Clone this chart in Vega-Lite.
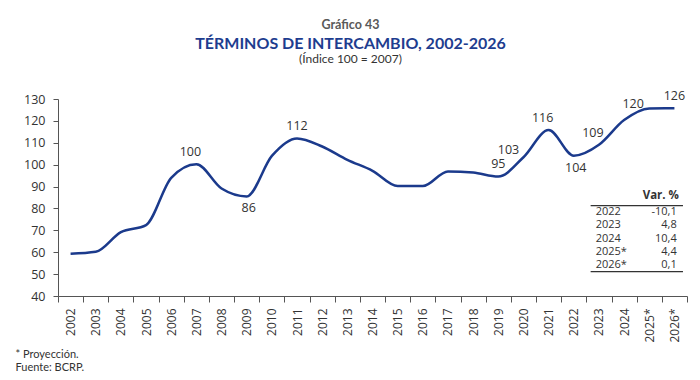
{
  "$schema": "https://vega.github.io/schema/vega-lite/v6.json",
  "autosize": "none",
  "width": 629,
  "height": 197,
  "padding": {"left": 58, "top": 99, "right": 13, "bottom": 84},
  "background": "white",
  "config": {"view": {"stroke": null}, "font": "Open Sans"},
  "title": {
    "text": "TÉRMINOS DE INTERCAMBIO, 2002-2026",
    "subtitle": "(Índice 100 = 2007)",
    "anchor": "middle",
    "frame": "group",
    "dx": -22,
    "offset": -47,
    "font": "Lato",
    "fontSize": 16,
    "fontWeight": "bold",
    "color": "#1e3d8f",
    "subtitleFont": "Lato",
    "subtitleFontSize": 12,
    "subtitleColor": "#333333",
    "subtitlePadding": 2
  },
  "datasets": {
    "serie": [
      {"anio": "2002", "valor": 59.3},
      {"anio": "2003", "valor": 60.2},
      {"anio": "2004", "valor": 69.2},
      {"anio": "2005", "valor": 72.4},
      {"anio": "2006", "valor": 94.0},
      {"anio": "2007", "valor": 100.2},
      {"anio": "2008", "valor": 89.1},
      {"anio": "2009", "valor": 85.5},
      {"anio": "2010", "valor": 104.0},
      {"anio": "2011", "valor": 112.0},
      {"anio": "2012", "valor": 108.3},
      {"anio": "2013", "valor": 102.2},
      {"anio": "2014", "valor": 97.2},
      {"anio": "2015", "valor": 90.2},
      {"anio": "2016", "valor": 90.2},
      {"anio": "2017", "valor": 96.9},
      {"anio": "2018", "valor": 96.4},
      {"anio": "2019", "valor": 94.6},
      {"anio": "2020", "valor": 103.4},
      {"anio": "2021", "valor": 115.8},
      {"anio": "2022", "valor": 104.1},
      {"anio": "2023", "valor": 109.1},
      {"anio": "2024", "valor": 120.4},
      {"anio": "2025*", "valor": 125.7},
      {"anio": "2026*", "valor": 125.8}
    ],
    "tabla": [
      {"fila": 1, "periodo": "2022", "var": "-10,1"},
      {"fila": 2, "periodo": "2023", "var": "4,8"},
      {"fila": 3, "periodo": "2024", "var": "10,4"},
      {"fila": 4, "periodo": "2025*", "var": "4,4"},
      {"fila": 5, "periodo": "2026*", "var": "0,1"}
    ]
  },
  "resolve": {"scale": {"y": "independent"}},
  "layer": [
    {
      "data": {"name": "serie"},
      "encoding": {
        "x": {
          "field": "anio",
          "type": "ordinal",
          "bandPosition": 0.5,
          "scale": {
            "type": "band",
            "paddingInner": 0,
            "paddingOuter": 0,
            "domain": ["2002","2003","2004","2005","2006","2007","2008","2009","2010","2011","2012","2013","2014","2015","2016","2017","2018","2019","2020","2021","2022","2023","2024","2025*","2026*"]
          },
          "axis": {
            "labelAngle": -90,
            "labelAlign": "right",
            "labelBaseline": "middle",
            "tickBand": "extent",
            "tickSize": 6,
            "tickColor": "#555555",
            "domainColor": "#555555",
            "labelPadding": 6,
            "labelFontSize": 12,
            "labelColor": "#333333",
            "labelFont": "Open Sans",
            "title": ["* Proyección.", "Fuente: BCRP."],
            "titleFont": "Lato",
            "titleFontSize": 11,
            "titleFontWeight": "normal",
            "titleColor": "#333333",
            "titleAlign": "left",
            "titleAnchor": "start",
            "titleBaseline": "middle",
            "titleX": -43,
            "titleY": 58,
            "titleLineHeight": 13
          }
        },
        "y": {
          "field": "valor",
          "type": "quantitative",
          "scale": {"domain": [40, 130], "nice": false, "zero": false},
          "axis": {
            "values": [40, 50, 60, 70, 80, 90, 100, 110, 120, 130],
            "grid": false,
            "tickSize": 5,
            "tickColor": "#555555",
            "domainColor": "#555555",
            "labelPadding": 8,
            "labelFontSize": 12.5,
            "labelColor": "#333333",
            "labelFont": "Open Sans",
            "title": "Gráfico 43",
            "titleAngle": 0,
            "titleX": 292,
            "titleY": -75,
            "titleAlign": "center",
            "titleBaseline": "middle",
            "titleFont": "Lato",
            "titleFontSize": 12.5,
            "titleFontWeight": "bold",
            "titleColor": "#595959"
          }
        }
      },
      "layer": [
        {
          "mark": {"type": "line", "interpolate": "monotone", "color": "#1b3a8c", "strokeWidth": 2.5}
        },
        {
          "transform": [{"filter": {"field": "anio", "oneOf": ["2007", "2021", "2023"]}}],
          "mark": {"type": "text", "dx": -6, "dy": -12, "fontSize": 12.5, "color": "#333333", "baseline": "middle"},
          "encoding": {"text": {"field": "valor", "type": "quantitative", "format": ".0f"}}
        },
        {
          "transform": [{"filter": {"field": "anio", "oneOf": ["2011", "2019", "2026*"]}}],
          "mark": {"type": "text", "dx": 0, "dy": -12, "fontSize": 12.5, "color": "#333333", "baseline": "middle"},
          "encoding": {"text": {"field": "valor", "type": "quantitative", "format": ".0f"}}
        },
        {
          "transform": [{"filter": {"field": "anio", "oneOf": ["2024"]}}],
          "mark": {"type": "text", "dx": 9, "dy": -16, "fontSize": 12.5, "color": "#333333", "baseline": "middle"},
          "encoding": {"text": {"field": "valor", "type": "quantitative", "format": ".0f"}}
        },
        {
          "transform": [{"filter": {"field": "anio", "oneOf": ["2020"]}}],
          "mark": {"type": "text", "dx": -15, "dy": -7, "fontSize": 12.5, "color": "#333333", "baseline": "middle"},
          "encoding": {"text": {"field": "valor", "type": "quantitative", "format": ".0f"}}
        },
        {
          "transform": [{"filter": {"field": "anio", "oneOf": ["2009", "2022"]}}],
          "mark": {"type": "text", "dx": 2, "dy": 12, "fontSize": 12.5, "color": "#333333", "baseline": "middle"},
          "encoding": {"text": {"field": "valor", "type": "quantitative", "format": ".0f"}}
        }
      ]
    },
    {
      "data": {"name": "tabla"},
      "encoding": {
        "y": {
          "field": "fila",
          "type": "quantitative",
          "scale": {"domain": [-7.583, 7.341], "reverse": true, "nice": false, "zero": false},
          "axis": null
        }
      },
      "layer": [
        {
          "mark": {"type": "text", "align": "left", "baseline": "middle", "fontSize": 11, "color": "#333333"},
          "encoding": {
            "x": {"datum": "2023", "type": "ordinal", "bandPosition": 0.37},
            "text": {"field": "periodo"}
          }
        },
        {
          "mark": {"type": "text", "align": "right", "baseline": "middle", "fontSize": 11, "color": "#333333"},
          "encoding": {
            "x": {"datum": "2026*", "type": "ordinal", "bandPosition": 0.59},
            "text": {"field": "var"}
          }
        },
        {
          "transform": [{"filter": "datum.fila == 1"}],
          "mark": {"type": "text", "align": "right", "baseline": "middle", "fontSize": 11.5, "fontWeight": "bold", "color": "#333333", "dy": -3, "text": "Var. %"},
          "encoding": {
            "x": {"datum": "2026*", "type": "ordinal", "bandPosition": 0.68},
            "y": {"datum": 0, "type": "quantitative"}
          }
        },
        {
          "transform": [{"filter": "datum.fila == 1"}],
          "mark": {"type": "rule", "color": "#333333", "strokeWidth": 1.3},
          "encoding": {
            "x": {"datum": "2023", "type": "ordinal", "bandPosition": 0.17},
            "x2": {"datum": "2026*", "bandPosition": 0.84},
            "y": {"datum": 0.5, "type": "quantitative"}
          }
        },
        {
          "transform": [{"filter": "datum.fila == 1"}],
          "mark": {"type": "rule", "color": "#333333", "strokeWidth": 1.3},
          "encoding": {
            "x": {"datum": "2023", "type": "ordinal", "bandPosition": 0.17},
            "x2": {"datum": "2026*", "bandPosition": 0.84},
            "y": {"datum": 5.5, "type": "quantitative"}
          }
        }
      ]
    }
  ]
}
